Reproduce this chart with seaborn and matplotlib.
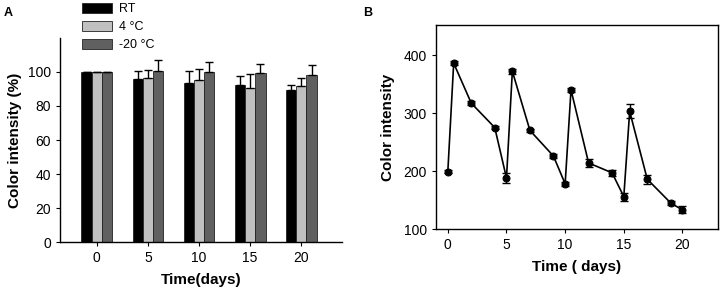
import matplotlib
matplotlib.use("Agg")
import matplotlib.pyplot as plt
import seaborn as sns
import numpy as np
import pandas as pd

# panel A: colour intensity (%) after storage
days_a = [0, 5, 10, 15, 20]
conditions = ["RT", "4 °C", "-20 °C"]
rt_mean = [100, 95.8, 93.5, 92.2, 89.3]
c4_mean = [100, 96.3, 95.3, 90.8, 91.8]
c20_mean = [100, 100.5, 100.0, 99.5, 98.3]
rt_err = [0, 4.5, 6.8, 5.6, 3.0]
c4_err = [0, 5.0, 6.3, 8.0, 4.8]
c20_err = [0, 6.6, 6.0, 5.3, 5.5]
bar_colors = ["#000000", "#c0c0c0", "#606060"]

# panel B: colour intensity over time
days_b = [0, 0.5, 2, 4, 5, 5.5, 7, 9, 10, 10.5, 12, 14, 15, 15.5, 17, 19, 20]
intensity = [199, 386, 317, 275, 188, 372, 270, 226, 178, 340, 214, 197, 156, 303, 186, 145, 133]
intensity_err = [3, 3, 3, 3, 8, 4, 3, 4, 4, 4, 7, 5, 7, 12, 8, 4, 6]

plt.rcParams["font.family"] = ["Liberation Sans", "DejaVu Sans"]

fig = plt.figure(figsize=(7.22, 2.96), dpi=100)
ax1 = fig.add_axes([0.083, 0.182, 0.391, 0.69])
ax2 = fig.add_axes([0.604, 0.226, 0.390, 0.690])

# %% panel A
df = pd.DataFrame({
    "day": days_a * 3,
    "cond": [c for c in conditions for _ in days_a],
    "val": rt_mean + c4_mean + c20_mean,
})
sns.barplot(data=df, x="day", y="val", hue="cond", hue_order=conditions,
            palette=bar_colors, width=0.6, errorbar=None, ax=ax1,
            edgecolor="#222222", linewidth=0.6, saturation=1)
errs = [rt_err, c4_err, c20_err]
for cont, err in zip(ax1.containers, errs):
    xs = [b.get_x() + b.get_width() / 2 for b in cont]
    ys = [b.get_height() for b in cont]
    ax1.errorbar(xs, ys, yerr=[np.zeros(len(err)), err], fmt="none",
                 ecolor="black", elinewidth=1, capsize=3, capthick=1)

ax1.set_xlim(-0.72, 4.8)
ax1.set_ylim(0, 120)
ax1.set_yticks([0, 20, 40, 60, 80, 100])
ax1.spines["top"].set_visible(False)
ax1.spines["right"].set_visible(False)
ax1.tick_params(labelsize=10, length=3, width=0.8)
ax1.set_xlabel("Time(days)", fontsize=11, fontweight="bold", labelpad=6)
ax1.set_ylabel("Color intensity (%)", fontsize=11, fontweight="bold", labelpad=4)
leg = ax1.legend(loc="upper left", bbox_to_anchor=(0.113, 0.99),
                 bbox_transform=fig.transFigure, frameon=False,
                 fontsize=9, handlelength=2.4, handleheight=0.85,
                 labelspacing=0.45, handletextpad=0.6, borderaxespad=0,
                 borderpad=0)

# %% panel B
sns.lineplot(x=days_b, y=intensity, color="black", marker="o", markersize=5,
             markeredgecolor="black", linewidth=1.2, ax=ax2)
ax2.errorbar(days_b, intensity, yerr=intensity_err, fmt="none", ecolor="black",
             elinewidth=1, capsize=3, capthick=1)
ax2.set_xlim(-1, 23)
ax2.set_ylim(100, 452)
ax2.set_xticks([0, 5, 10, 15, 20])
ax2.set_yticks([100, 200, 300, 400])
ax2.tick_params(labelsize=10, length=3, width=0.8)
ax2.set_xlabel("Time ( days)", fontsize=11, fontweight="bold", labelpad=6)
ax2.set_ylabel("Color intensity", fontsize=11, fontweight="bold", labelpad=6)

for ax in (ax1, ax2):
    for s in ax.spines.values():
        s.set_linewidth(1.0)

fig.text(0.005, 0.945, "A", fontsize=9, fontweight="bold")
fig.text(0.503, 0.945, "B", fontsize=9, fontweight="bold")

fig.savefig("out.png", dpi=100)
